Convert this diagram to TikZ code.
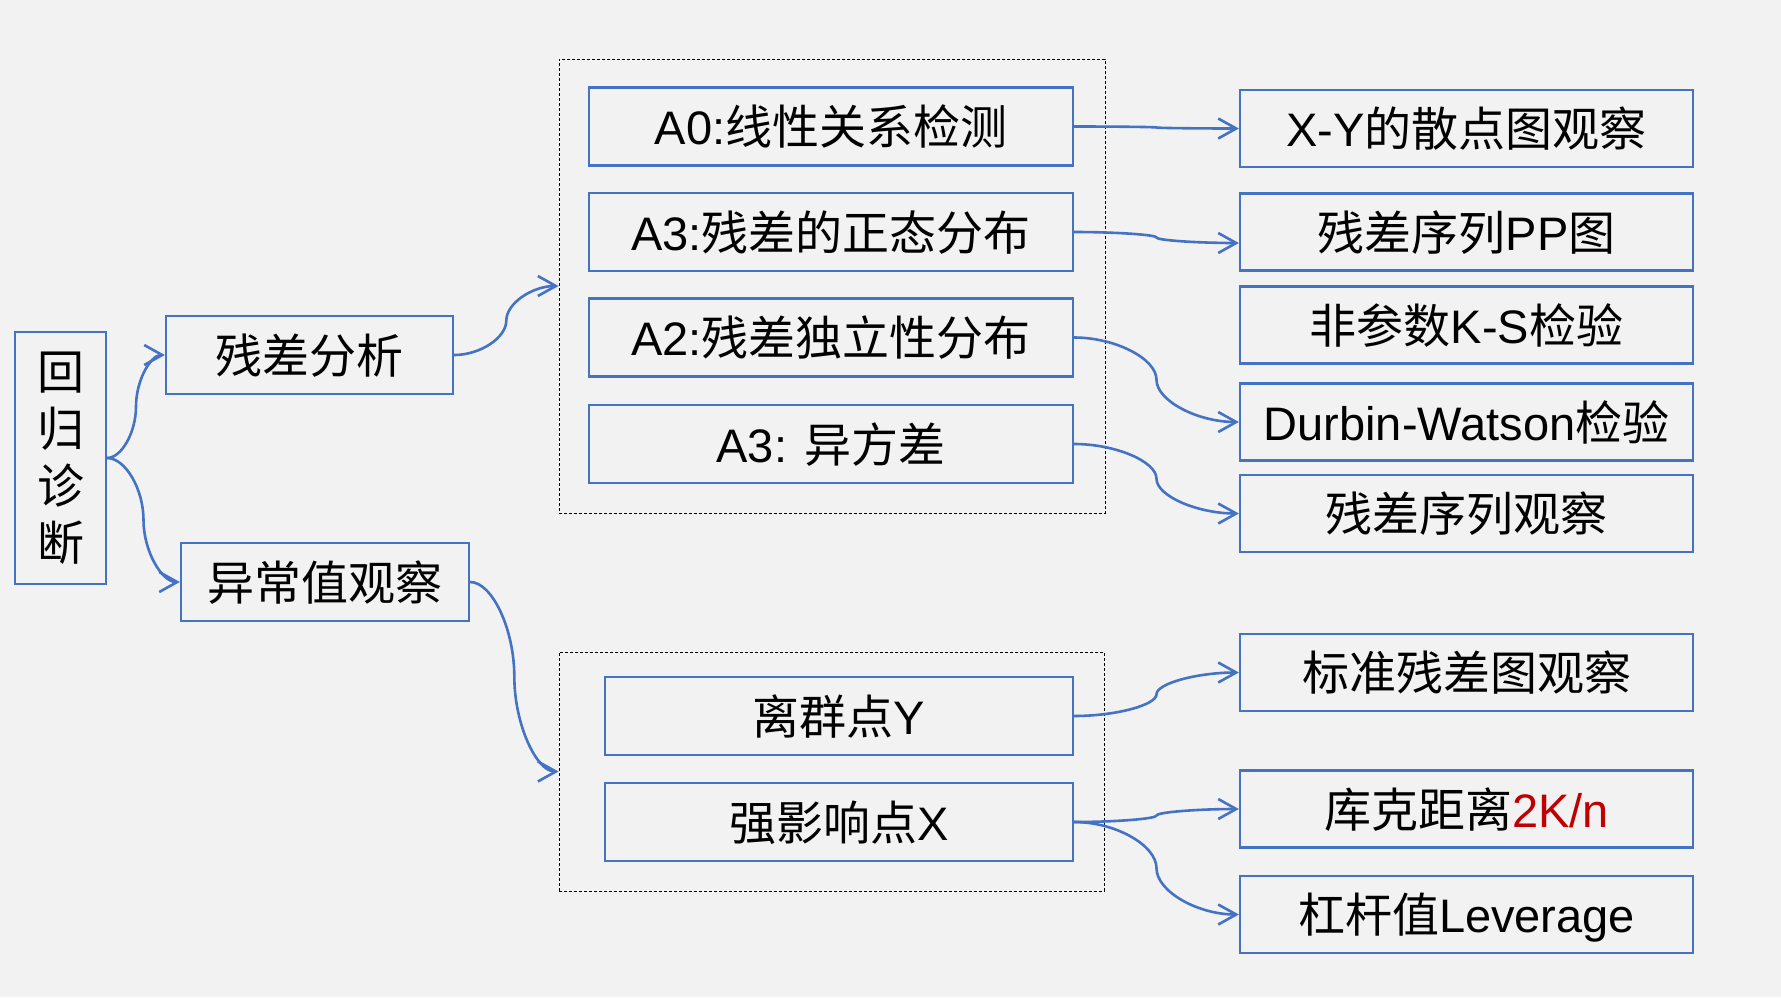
\documentclass[tikz,border=0pt]{standalone}
\usepackage{fontspec}
\setmainfont{Liberation Sans}
\newfontfamily\cjk{Noto Sans CJK SC}
\usetikzlibrary{arrows.meta,calc}
\definecolor{bg}{HTML}{F2F2F2}
\definecolor{boxblue}{HTML}{4472C4}
\definecolor{accentred}{HTML}{C00000}

% S-shaped connector: leaves and enters horizontally, vertical at half way
\newcommand\swoop[2]{%
  \path (#1) coordinate (s) (#2) coordinate (t)
    ($(s)!0.25!(t)$) coordinate (q1)
    ($(s)!0.5!(t)$) coordinate (m)
    ($(s)!0.75!(t)$) coordinate (q3);
  \draw[link] (s) .. controls (q1 |- s) and (m |- q1) .. (m)
                  .. controls (m |- q3) and (q3 |- t) .. (t);
}

\begin{document}
\begin{tikzpicture}[x=1pt,y=-1pt,
  box/.style={draw=boxblue, line width=2.2pt, inner sep=0pt,
    text height=36pt, text depth=0pt, font=\fontsize{47}{57}\selectfont},
  midbox/.style={box, minimum width=484pt, minimum height=78pt},
  lowbox/.style={box, minimum width=468pt, minimum height=78pt},
  rbox/.style={box, minimum width=453pt, minimum height=77pt},
  group/.style={draw=black, line width=0.9pt, dash pattern=on 3pt off 2pt, inner sep=0pt},
  link/.style={draw=boxblue, line width=2.6pt, -{Straight Barb[length=18pt,width=20pt]}},
]
% canvas
\fill[bg] (0,0) rectangle (1781,997);
\useasboundingbox (0,0) rectangle (1781,997);

% root
\node[draw=boxblue, line width=2.2pt, minimum width=91pt, minimum height=252pt,
  inner sep=0pt, align=center, font=\fontsize{47}{57}\selectfont\cjk] (root) at (60.5,458)
  {回\\归\\诊\\断};

% first level
\node[box, minimum width=287pt, minimum height=78pt] (resid) at (309.5,355) {{\cjk 残差分析}};
\node[box, minimum width=288pt, minimum height=78pt] (outl) at (325,582) {{\cjk 异常值观察}};

% grouping frames
\node[group, minimum width=546pt, minimum height=454pt] (g1) at (832,286) {};
\node[group, minimum width=545pt, minimum height=239pt] (g2) at (831.5,771.5) {};

% residual assumptions
\node[midbox] (a0) at (831,126.5) {A0:{\cjk 线性关系检测}};
\node[midbox] (a3) at (831,232) {A3:{\cjk 残差的正态分布}};
\node[midbox] (a2) at (831,337.5) {A2:{\cjk 残差独立性分布}};
\node[midbox] (a3b) at (831,444) {A3: {\cjk 异方差}};

% outlier kinds
\node[lowbox] (ly) at (839,716) {{\cjk 离群点}Y};
\node[lowbox] (lx) at (839,822) {{\cjk 强影响点}X};

% checks
\node[rbox] (r1) at (1466.5,128.5) {X-Y{\cjk 的散点图观察}};
\node[rbox] (r2) at (1466.5,232) {{\cjk 残差序列}PP{\cjk 图}};
\node[rbox] (r3) at (1466.5,325) {{\cjk 非参数}K-S{\cjk 检验}};
\node[rbox] (r4) at (1466.5,422) {Durbin-Watson{\cjk 检验}};
\node[rbox] (r5) at (1466.5,513.5) {{\cjk 残差序列观察}};
\node[rbox] (r6) at (1466.5,672.5) {{\cjk 标准残差图观察}};
\node[rbox] (r7) at (1466.5,809) {{\cjk 库克距离}\textcolor{accentred}{2K/n}};
\node[rbox] (r8) at (1466.5,914.5) {{\cjk 杠杆值}Leverage};

% connectors
\swoop{root.east}{resid.west}
\swoop{root.east}{outl.west}
\swoop{resid.east}{g1.west}
\swoop{outl.east}{g2.west}
\swoop{a0.east}{r1.west}
\swoop{a3.east}{$(r2.west)+(0,11)$}
\swoop{a2.east}{r4.west}
\swoop{a3b.east}{r5.west}
\swoop{ly.east}{r6.west}
\swoop{lx.east}{r7.west}
\swoop{lx.east}{r8.west}
\end{tikzpicture}
\end{document}
